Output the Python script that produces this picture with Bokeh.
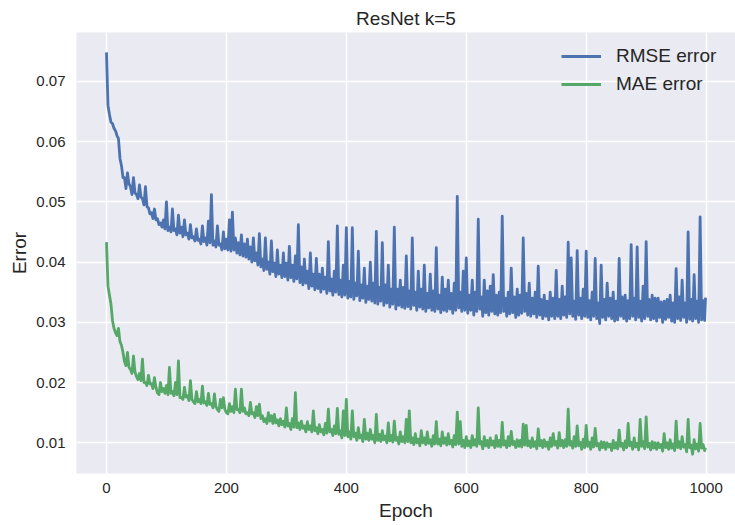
from bokeh.plotting import figure
from bokeh.models import Range1d, FixedTicker, Legend, LegendItem, Title
from bokeh.embed import file_html
from bokeh.resources import INLINE

# epoch grid: a reading every 5 epochs, plus the last epoch
epochs = list(range(0, 1000, 5)) + [999]

# RMSE read at each 5th epoch
rmse = [
    0.0748, 0.0645, 0.0630, 0.0618, 0.0605, 0.0560, 0.0540, 0.0548, 0.0525, 0.0540,
    0.0512, 0.0528, 0.0505, 0.0525, 0.0490, 0.0482, 0.0488, 0.0472, 0.0465, 0.0470,
    0.0500, 0.0458, 0.0488, 0.0455, 0.0478, 0.0458, 0.0470, 0.0448, 0.0462, 0.0442,
    0.0455, 0.0438, 0.0460, 0.0440, 0.0468, 0.0512, 0.0435, 0.0460, 0.0430, 0.0450,
    0.0438, 0.0470, 0.0483, 0.0440, 0.0432, 0.0445, 0.0430, 0.0438, 0.0425, 0.0440,
    0.0415, 0.0447, 0.0405, 0.0440, 0.0400, 0.0435, 0.0398, 0.0420, 0.0395, 0.0415,
    0.0398, 0.0426, 0.0395, 0.0410, 0.0462, 0.0392, 0.0405, 0.0385, 0.0415, 0.0380,
    0.0406, 0.0380, 0.0390, 0.0375, 0.0434, 0.0372, 0.0385, 0.0460, 0.0370, 0.0395,
    0.0457, 0.0368, 0.0457, 0.0365, 0.0418, 0.0362, 0.0390, 0.0360, 0.0400, 0.0365,
    0.0451, 0.0358, 0.0432, 0.0362, 0.0395, 0.0355, 0.0458, 0.0355, 0.0370, 0.0358,
    0.0410, 0.0352, 0.0440, 0.0350, 0.0385, 0.0355, 0.0395, 0.0348, 0.0380, 0.0352,
    0.0424, 0.0345, 0.0375, 0.0355, 0.0370, 0.0348, 0.0365, 0.0509, 0.0350, 0.0385,
    0.0407, 0.0345, 0.0370, 0.0350, 0.0471, 0.0342, 0.0370, 0.0352, 0.0360, 0.0379,
    0.0345, 0.0350, 0.0476, 0.0340, 0.0350, 0.0390, 0.0342, 0.0355, 0.0345, 0.0440,
    0.0348, 0.0365, 0.0340, 0.0350, 0.0393, 0.0338, 0.0345, 0.0335, 0.0350, 0.0340,
    0.0386, 0.0338, 0.0360, 0.0342, 0.0433, 0.0407, 0.0335, 0.0419, 0.0340, 0.0355,
    0.0418, 0.0336, 0.0350, 0.0406, 0.0332, 0.0395, 0.0338, 0.0365, 0.0340, 0.0350,
    0.0335, 0.0406, 0.0342, 0.0345, 0.0336, 0.0429, 0.0340, 0.0425, 0.0335, 0.0360,
    0.0434, 0.0338, 0.0345, 0.0340, 0.0340, 0.0334, 0.0335, 0.0338, 0.0345, 0.0332,
    0.0389, 0.0342, 0.0370, 0.0332, 0.0450, 0.0338, 0.0379, 0.0335, 0.0475, 0.0336,
    0.0341,
]

# RMSE dips read midway in each 5-epoch window (epoch 5i + 2.5)
rmse_dips = [
    0.0660, 0.0632, 0.0622, 0.0610, 0.0572, 0.0540, 0.0522, 0.0530, 0.0512, 0.0515,
    0.0505, 0.0508, 0.0495, 0.0492, 0.0480, 0.0472, 0.0470, 0.0462, 0.0458, 0.0455,
    0.0452, 0.0450, 0.0452, 0.0445, 0.0448, 0.0442, 0.0445, 0.0438, 0.0440, 0.0435,
    0.0436, 0.0430, 0.0434, 0.0428, 0.0432, 0.0428, 0.0425, 0.0428, 0.0420, 0.0422,
    0.0420, 0.0418, 0.0420, 0.0415, 0.0412, 0.0410, 0.0408, 0.0405, 0.0400, 0.0402,
    0.0395, 0.0392, 0.0386, 0.0388, 0.0380, 0.0384, 0.0376, 0.0380, 0.0374, 0.0376,
    0.0370, 0.0374, 0.0368, 0.0372, 0.0366, 0.0362, 0.0365, 0.0356, 0.0360, 0.0354,
    0.0356, 0.0350, 0.0355, 0.0348, 0.0352, 0.0345, 0.0350, 0.0346, 0.0342, 0.0345,
    0.0340, 0.0342, 0.0338, 0.0344, 0.0336, 0.0340, 0.0333, 0.0338, 0.0335, 0.0332,
    0.0330, 0.0335, 0.0328, 0.0332, 0.0325, 0.0330, 0.0322, 0.0328, 0.0325, 0.0323,
    0.0326, 0.0322, 0.0328, 0.0320, 0.0325, 0.0322, 0.0318, 0.0324, 0.0320, 0.0318,
    0.0322, 0.0316, 0.0320, 0.0318, 0.0322, 0.0315, 0.0320, 0.0324, 0.0318, 0.0320,
    0.0315, 0.0320, 0.0312, 0.0318, 0.0322, 0.0310, 0.0316, 0.0312, 0.0318, 0.0314,
    0.0312, 0.0316, 0.0318, 0.0310, 0.0314, 0.0316, 0.0308, 0.0312, 0.0315, 0.0318,
    0.0312, 0.0310, 0.0314, 0.0308, 0.0312, 0.0306, 0.0310, 0.0304, 0.0310, 0.0306,
    0.0310, 0.0306, 0.0312, 0.0308, 0.0314, 0.0310, 0.0305, 0.0312, 0.0306, 0.0310,
    0.0308, 0.0304, 0.0310, 0.0306, 0.0298, 0.0308, 0.0304, 0.0310, 0.0306, 0.0302,
    0.0304, 0.0310, 0.0306, 0.0302, 0.0306, 0.0310, 0.0304, 0.0308, 0.0302, 0.0306,
    0.0310, 0.0304, 0.0306, 0.0302, 0.0308, 0.0300, 0.0305, 0.0308, 0.0302, 0.0300,
    0.0306, 0.0303, 0.0308, 0.0300, 0.0305, 0.0302, 0.0306, 0.0300, 0.0304, 0.0303,
]

# MAE read at each 5th epoch
mae = [
    0.0433, 0.0345, 0.0303, 0.0283, 0.0290, 0.0262, 0.0235, 0.0250, 0.0222, 0.0244,
    0.0210, 0.0215, 0.0239, 0.0200, 0.0212, 0.0198, 0.0208, 0.0183, 0.0200, 0.0190,
    0.0195, 0.0225, 0.0185, 0.0200, 0.0236, 0.0175, 0.0192, 0.0178, 0.0203, 0.0168,
    0.0185, 0.0172, 0.0194, 0.0168, 0.0182, 0.0165, 0.0181, 0.0155, 0.0172, 0.0175,
    0.0150, 0.0165, 0.0160, 0.0189, 0.0155, 0.0189, 0.0158, 0.0150, 0.0167, 0.0150,
    0.0160, 0.0164, 0.0145, 0.0140, 0.0150, 0.0145, 0.0147, 0.0138, 0.0140, 0.0136,
    0.0158, 0.0132, 0.0140, 0.0183, 0.0133, 0.0136, 0.0128, 0.0135, 0.0128, 0.0153,
    0.0125, 0.0130, 0.0122, 0.0132, 0.0156, 0.0122, 0.0128, 0.0157, 0.0120, 0.0153,
    0.0172, 0.0118, 0.0153, 0.0116, 0.0125, 0.0113, 0.0139, 0.0116, 0.0122, 0.0112,
    0.0147, 0.0114, 0.0120, 0.0111, 0.0133, 0.0112, 0.0136, 0.0109, 0.0118, 0.0110,
    0.0139, 0.0153, 0.0108, 0.0115, 0.0106, 0.0120, 0.0108, 0.0118, 0.0105, 0.0112,
    0.0135, 0.0106, 0.0118, 0.0108, 0.0115, 0.0104, 0.0112, 0.0151, 0.0135, 0.0104,
    0.0110, 0.0103, 0.0112, 0.0105, 0.0158, 0.0102, 0.0110, 0.0104, 0.0108, 0.0103,
    0.0112, 0.0104, 0.0134, 0.0103, 0.0110, 0.0119, 0.0102, 0.0105, 0.0104, 0.0131,
    0.0129, 0.0103, 0.0108, 0.0102, 0.0123, 0.0104, 0.0105, 0.0101, 0.0108, 0.0115,
    0.0102, 0.0117, 0.0104, 0.0105, 0.0156, 0.0102, 0.0110, 0.0128, 0.0101, 0.0106,
    0.0129, 0.0101, 0.0108, 0.0124, 0.0099, 0.0102, 0.0101, 0.0100, 0.0098, 0.0104,
    0.0100, 0.0121, 0.0099, 0.0103, 0.0132, 0.0101, 0.0108, 0.0099, 0.0139, 0.0102,
    0.0143, 0.0099, 0.0102, 0.0100, 0.0100, 0.0097, 0.0115, 0.0100, 0.0105, 0.0098,
    0.0136, 0.0102, 0.0110, 0.0097, 0.0139, 0.0096, 0.0105, 0.0098, 0.0132, 0.0097,
    0.0092,
]

# MAE dips read midway in each 5-epoch window (epoch 5i + 2.5)
mae_dips = [
    0.0360, 0.0330, 0.0290, 0.0278, 0.0268, 0.0250, 0.0228, 0.0225, 0.0215, 0.0218,
    0.0205, 0.0203, 0.0200, 0.0195, 0.0198, 0.0190, 0.0192, 0.0180, 0.0185, 0.0182,
    0.0180, 0.0182, 0.0178, 0.0180, 0.0175, 0.0172, 0.0176, 0.0170, 0.0172, 0.0165,
    0.0168, 0.0165, 0.0166, 0.0162, 0.0164, 0.0158, 0.0160, 0.0152, 0.0158, 0.0155,
    0.0148, 0.0152, 0.0150, 0.0155, 0.0150, 0.0152, 0.0148, 0.0145, 0.0148, 0.0142,
    0.0145, 0.0140, 0.0135, 0.0132, 0.0136, 0.0132, 0.0133, 0.0128, 0.0130, 0.0126,
    0.0128, 0.0122, 0.0126, 0.0125, 0.0122, 0.0124, 0.0118, 0.0122, 0.0118, 0.0120,
    0.0115, 0.0118, 0.0113, 0.0116, 0.0118, 0.0112, 0.0115, 0.0114, 0.0108, 0.0112,
    0.0110, 0.0106, 0.0110, 0.0104, 0.0108, 0.0102, 0.0106, 0.0104, 0.0106, 0.0100,
    0.0104, 0.0102, 0.0105, 0.0100, 0.0103, 0.0101, 0.0104, 0.0098, 0.0102, 0.0100,
    0.0102, 0.0100, 0.0097, 0.0100, 0.0095, 0.0100, 0.0097, 0.0099, 0.0094, 0.0098,
    0.0098, 0.0095, 0.0099, 0.0096, 0.0098, 0.0093, 0.0097, 0.0098, 0.0094, 0.0092,
    0.0095, 0.0092, 0.0096, 0.0094, 0.0098, 0.0090, 0.0095, 0.0092, 0.0096, 0.0092,
    0.0094, 0.0093, 0.0096, 0.0092, 0.0095, 0.0097, 0.0092, 0.0094, 0.0093, 0.0096,
    0.0095, 0.0092, 0.0094, 0.0090, 0.0095, 0.0092, 0.0094, 0.0089, 0.0094, 0.0096,
    0.0091, 0.0095, 0.0092, 0.0094, 0.0096, 0.0091, 0.0094, 0.0095, 0.0089, 0.0092,
    0.0094, 0.0089, 0.0093, 0.0095, 0.0088, 0.0092, 0.0089, 0.0093, 0.0087, 0.0091,
    0.0090, 0.0094, 0.0088, 0.0092, 0.0095, 0.0089, 0.0093, 0.0088, 0.0094, 0.0090,
    0.0093, 0.0088, 0.0091, 0.0089, 0.0092, 0.0086, 0.0092, 0.0089, 0.0091, 0.0087,
    0.0092, 0.0090, 0.0093, 0.0085, 0.0092, 0.0081, 0.0090, 0.0086, 0.0091, 0.0087,
]

x_ticks = [0, 200, 400, 600, 800, 1000]
y_ticks = [0.01, 0.02, 0.03, 0.04, 0.05, 0.06, 0.07]

title_text = "ResNet k=5"
x_label = "Epoch"
y_label = "Error"
series_names = ["RMSE error", "MAE error"]
colors = ["#4C72B0", "#55A868"]

FONT = "Liberation Sans"
TXT = "#262626"


def merge(ep, vals, dips):
    xs, ys = [], []
    for i in range(len(dips)):
        xs += [ep[i], ep[i] + 2.5]
        ys += [vals[i], dips[i]]
    xs += ep[len(dips):]
    ys += vals[len(dips):]
    return xs, ys


p = figure(width=735, height=525, output_backend="svg", toolbar_location=None,
           x_range=Range1d(-50, 1049), y_range=Range1d(0.0049, 0.0781),
           min_border_left=76, min_border_right=0, min_border_top=32,
           min_border_bottom=52)

p.background_fill_color = "#EAEAF2"
p.border_fill_color = "white"
p.outline_line_color = None

t = Title(text=title_text, align="center", text_font=FONT, text_font_size="19px",
          text_font_style="normal", text_color=TXT, standoff=8)
p.add_layout(t, "above")

for ax in (p.xaxis[0], p.yaxis[0]):
    ax.axis_line_color = None
    ax.major_tick_line_color = None
    ax.minor_tick_line_color = None
    ax.major_tick_out = 0
    ax.major_tick_in = 0
    ax.minor_tick_out = 0
    ax.minor_tick_in = 0
    ax.major_label_text_font = FONT
    ax.major_label_text_font_size = "15px"
    ax.major_label_text_color = TXT
    ax.axis_label_text_font = FONT
    ax.axis_label_text_font_size = "19px"
    ax.axis_label_text_font_style = "normal"
    ax.axis_label_text_color = TXT

p.xaxis.ticker = FixedTicker(ticks=x_ticks)
p.yaxis.ticker = FixedTicker(ticks=y_ticks)
p.yaxis.major_label_overrides = {v: f"{v:.2f}" for v in y_ticks}
p.xaxis.axis_label = x_label
p.yaxis.axis_label = y_label
p.xaxis.major_label_standoff = 9
p.xaxis.axis_label_standoff = 4
p.yaxis.major_label_standoff = 11
p.yaxis.axis_label_standoff = 3

p.xgrid.grid_line_color = "white"
p.ygrid.grid_line_color = "white"
p.xgrid.grid_line_width = 1.5
p.ygrid.grid_line_width = 1.5

rx, ry = merge(epochs, rmse, rmse_dips)
mx, my = merge(epochs, mae, mae_dips)
r1 = p.line(rx, ry, line_color=colors[0], line_width=2.8, line_join="round")
r2 = p.line(mx, my, line_color=colors[1], line_width=2.8, line_join="round")

legend = Legend(items=[LegendItem(label=series_names[0], renderers=[r1]),
                       LegendItem(label=series_names[1], renderers=[r2])],
                location=(485, 377))
legend.background_fill_alpha = 0
legend.border_line_color = None
legend.label_text_font = FONT
legend.label_text_font_size = "19px"
legend.label_text_color = TXT
legend.glyph_width = 40
legend.glyph_height = 24
legend.label_height = 24
legend.label_standoff = 15
legend.spacing = 4
legend.padding = 5
legend.margin = 0
p.add_layout(legend, "center")

open("out.html", "w").write(file_html(p, INLINE))
